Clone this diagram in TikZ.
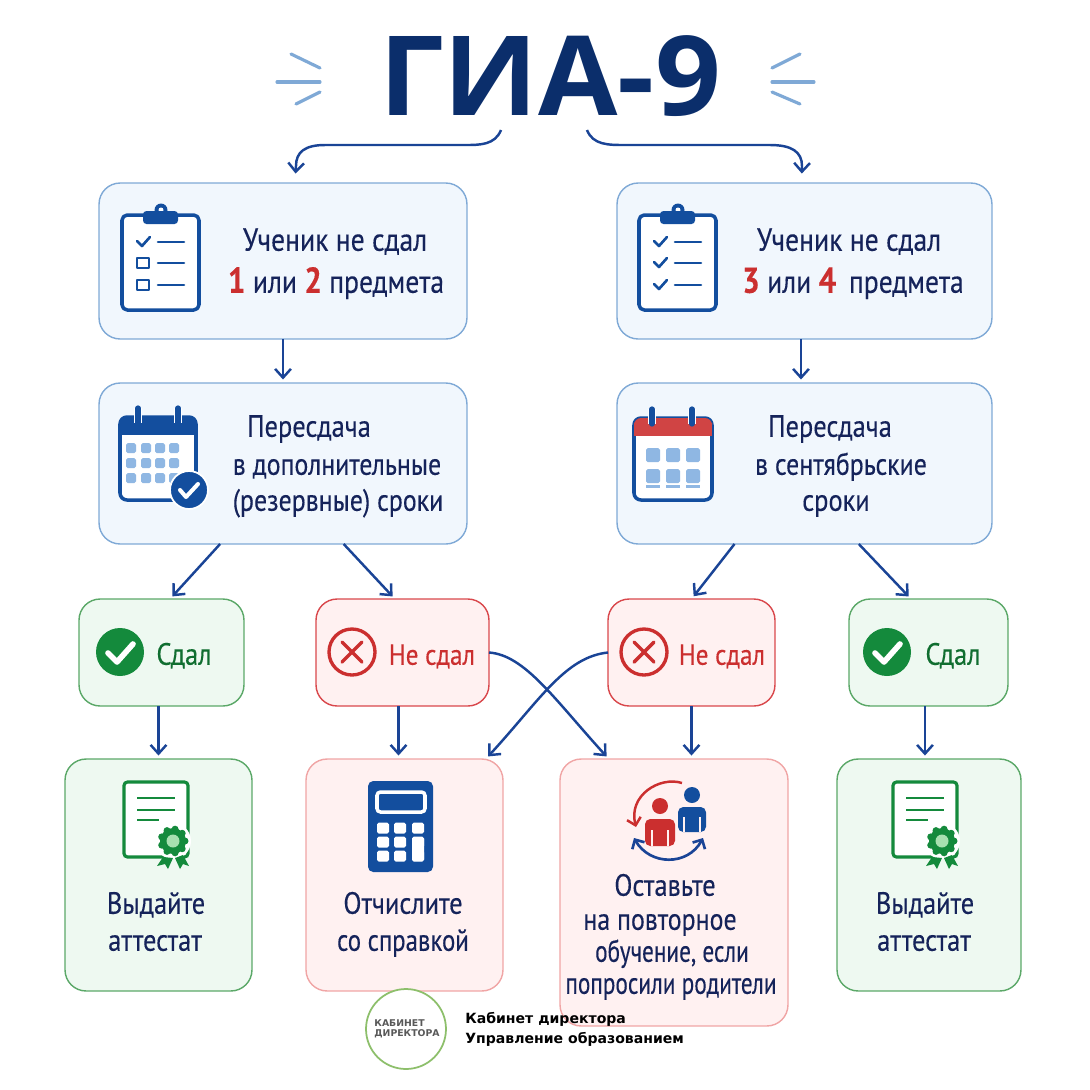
\documentclass[tikz,border=0pt]{standalone}
\usepackage{fontspec}
\usepackage{graphicx}
\setmainfont[FakeStretch=0.86,FakeBold=0.25]{PT Sans}
\newfontfamily\titlefont[FakeStretch=1.04]{Open Sans}
\newfontfamily\footfont{DejaVu Sans}
\usepackage{xcolor}
\usetikzlibrary{arrows.meta}

\definecolor{titleblue}{HTML}{0B2E6B}
\definecolor{iconblue}{HTML}{134E9E}
\definecolor{arrowblue}{HTML}{1A4496}
\definecolor{textblue}{HTML}{15235A}
\definecolor{lineblue}{HTML}{7FA9D6}
\definecolor{cellblue}{HTML}{8FB7E3}
\definecolor{fillblue}{HTML}{F1F7FD}
\definecolor{okgreen}{HTML}{148A3C}
\definecolor{linegreen}{HTML}{5BA868}
\definecolor{fillgreen}{HTML}{EEF9F1}
\definecolor{logogreen}{HTML}{8DBF6B}
\definecolor{seallight}{HTML}{A8E0B0}
\definecolor{badred}{HTML}{CB2F2F}
\definecolor{linered}{HTML}{D9484C}
\definecolor{softred}{HTML}{F0A5A5}
\definecolor{fillred}{HTML}{FFF1F1}

\tikzset{
  box/.style={draw, rounded corners=12pt, line width=0.8pt, outer sep=0pt},
  bluebox/.style={box, draw=lineblue, fill=fillblue},
  greenbox/.style={box, draw=linegreen, fill=fillgreen},
  redbox/.style={box, draw=linered, fill=fillred},
  softbox/.style={box, draw=softred, fill=fillred},
  flow/.style={draw=arrowblue, line width=1.4pt, -{Straight Barb[length=5pt,width=9pt]}, shorten >=2pt},
  lbl/.style={text=textblue, font=\fontsize{17.5}{21}\selectfont, anchor=base, inner sep=0pt, yshift=-1pt},
  biglbl/.style={lbl, font=\fontsize{18.3}{21}\selectfont},
  smalllbl/.style={lbl, font=\fontsize{16.6}{21}\selectfont},
  ray/.style={draw=lineblue, line width=1.8pt, line cap=round},
  icon/.style={draw=iconblue, line width=2pt, line join=round, line cap=round},
  iconline/.style={draw=iconblue, line width=1.5pt, line join=round, line cap=round}
}

\newcommand{\numred}[1]{\textcolor{badred}{\fontsize{20.5}{21}\selectfont\textbf{#1}}}
\newcommand{\tickicon}[2]{\draw[iconline] (#1-6,#2-1) -- (#1-1,#2+4) -- (#1+7,#2-5);}
\newcommand{\emptyicon}[2]{\draw[iconline] (#1-6,#2-5) rectangle (#1+6,#2+5);}
\newcommand{\narrow}[1]{\scalebox{0.88}[1]{#1}}

% Clipboard frame, drawn from its top left corner
\newcommand{\clipicon}{
  \draw[icon, fill=white, rounded corners=3pt] (0,0) rectangle (77,95);
  \fill[iconblue] (39,-5) circle (6.5);
  \fill[white] (39,-5) circle (2.5);
  \fill[iconblue, rounded corners=2pt] (21,-4) rectangle (56,9);
  \draw[iconline] (36,27) -- (62,27);
  \draw[iconline] (36,48) -- (62,48);
  \draw[iconline] (36,70) -- (62,70);
}
% Diploma with its rosette
\newcommand{\diplomaicon}{
  \draw[draw=okgreen, line width=1.8pt, fill=white, rounded corners=2pt] (0,0) rectangle (64,75);
  \draw[okgreen, line width=1.4pt] (13,16) -- (51,16);
  \draw[okgreen, line width=1.4pt] (13,28) -- (51,28);
  \draw[okgreen, line width=1.4pt] (13,38) -- (35,38);
  \fill[white] (49,59) circle (18);
  \fill[okgreen] (39,75) -- (33,84) -- (41,82) -- (44,87) -- (49,76) -- cycle;
  \fill[okgreen] (51,76) -- (56,87) -- (59,82) -- (65,84) -- (59,73) -- cycle;
  \fill[okgreen] (49,59) circle (13);
  \foreach \a in {0,40,...,320} \fill[okgreen] (49,59) ++(\a:12) circle (3.5);
  \fill[seallight] (49,59) circle (6.5);
}
% Circle with a tick
\newcommand{\passicon}{
  \fill[okgreen] (0,0) circle (24);
  \draw[white, line width=3.2pt, line cap=round, line join=round] (-12,1) -- (-3,10) -- (13,-8);
}
% Circle with a cross
\newcommand{\failicon}{
  \draw[badred, line width=1.9pt] (0,0) circle (23);
  \draw[badred, line width=2pt, line cap=round] (-10,-10) -- (10,10);
  \draw[badred, line width=2pt, line cap=round] (-10,10) -- (10,-10);
}

\begin{document}
\begin{tikzpicture}[x=0.02cm, y=-0.02cm]
  \useasboundingbox (0,0) rectangle (1090,1090);

  % Title
  \node[text=titleblue, font=\titlefont\fontsize{63}{70}\selectfont\bfseries, anchor=base, inner sep=0pt] (title) at (550,115) {ГИА-9};
  \draw[ray] (291,54) -- (320,68);
  \draw[ray] (277,82) -- (320,82);
  \draw[ray] (296,104) -- (320,92);
  \draw[ray] (800,54) -- (772,68);
  \draw[ray] (772,82) -- (814,82);
  \draw[ray] (800,104) -- (772,92);
  \coordinate (titleA) at (501,130);
  \coordinate (titleB) at (587,130);

  % First row
  \node[bluebox, minimum width=7.36cm, minimum height=3.12cm] (firstA) at (283,261) {};
  \node[bluebox, minimum width=7.5cm, minimum height=3.12cm] (firstB) at (804.5,261) {};
  \node[biglbl] (firstAa) at (335,249) {Ученик не сдал};
  \node[biglbl] (firstAb) at (336,291) {\numred{1} или \numred{2} предмета};
  \node[biglbl] (firstBa) at (849,249) {Ученик не сдал};
  \node[biglbl] (firstBb) at (853,291) {\numred{3} или \numred{4}\, предмета};

  % Second row
  \node[bluebox, minimum width=7.36cm, minimum height=3.22cm] (retakeA) at (283,463.5) {};
  \node[bluebox, minimum width=7.5cm, minimum height=3.22cm] (retakeB) at (804.5,463.5) {};
  \node[lbl] (retakeAa) at (309,435) {Пересдача};
  \node[lbl] (retakeAb) at (337,473) {\scalebox{0.98}[1]{в дополнительные}};
  \node[lbl] (retakeAc) at (338,509) {\scalebox{0.98}[1]{(резервные) сроки}};
  \node[lbl] (retakeBa) at (830,435) {Пересдача};
  \node[lbl] (retakeBb) at (841,473) {\scalebox{0.98}[1]{в сентябрьские}};
  \node[lbl] (retakeBc) at (836,509) {сроки};

  % Third row
  \node[greenbox, minimum width=3.3cm, minimum height=2.14cm] (passA) at (161.5,652.5) {};
  \node[redbox, minimum width=3.46cm, minimum height=2.14cm] (failA) at (402.5,652.5) {};
  \node[redbox, minimum width=3.34cm, minimum height=2.14cm] (failB) at (691.5,652.5) {};
  \node[greenbox, minimum width=3.18cm, minimum height=2.14cm] (passB) at (928.5,652.5) {};
  \node[lbl, text=okgreen!80!black] (passAt) at (184,663) {Сдал};
  \node[smalllbl, text=badred] (failAt) at (432,663) {Не сдал};
  \node[smalllbl, text=badred] (failBt) at (722,663) {Не сдал};
  \node[lbl, text=okgreen!80!black] (passBt) at (953,663) {Сдал};

  % Last row
  \node[greenbox, minimum width=3.74cm, minimum height=4.64cm] (diplomaA) at (158.5,875) {};
  \node[softbox, minimum width=3.94cm, minimum height=4.64cm] (expel) at (404.5,875) {};
  \node[softbox, minimum width=4.56cm, minimum height=5.34cm] (retain) at (674,892.5) {};
  \node[greenbox, minimum width=3.68cm, minimum height=4.64cm] (diplomaB) at (929,875) {};
  \node[lbl] (diplomaAa) at (156,912) {Выдайте};
  \node[lbl] (diplomaAb) at (155,949) {аттестат};
  \node[lbl] (expela) at (403,912) {Отчислите};
  \node[lbl] (expelb) at (403,949) {\scalebox{0.94}[1]{со справкой}};
  \node[lbl] (retainAa) at (665,894) {Оставьте};
  \node[lbl] (retainAb) at (660,928) {\scalebox{0.98}[1]{на повторное}};
  \node[lbl] (retainAc) at (672,960) {\narrow{обучение, если}};
  \node[lbl] (retainAd) at (671,992) {\narrow{попросили родители}};
  \node[lbl] (diplomaBa) at (925,912) {Выдайте};
  \node[lbl] (diplomaBb) at (924,949) {аттестат};

  % Connectors
  \draw[flow] (titleA) .. controls (495,145) and (480,145) .. (465,145) -- (325,145) .. controls (305,145) and (296,152) .. (296,166) -- ([yshift=3.4pt]firstA.81);
  \draw[flow] (titleB) .. controls (593,145) and (608,145) .. (625,145) -- (770,145) .. controls (792,145) and (802,152) .. (802,166) -- ([yshift=3.4pt]firstB.92);
  \draw[flow] (firstA.south) -- (retakeA.north);
  \draw[flow] ([xshift=-2pt]firstB.south) -- ([xshift=-2pt]retakeB.north);
  \draw[flow] (retakeA.232) -- (passA.81);
  \draw[flow] (retakeA.307) -- (failA.98);
  \draw[flow] (retakeB.229) -- (failB.north);
  \draw[flow] (retakeB.304) -- (passB.108);
  \draw[flow] (diplomaA.north |- passA.south) -- (diplomaA.north);
  \draw[flow] ([xshift=-3.4pt]expel.north |- failA.south) -- ([xshift=-3.4pt]expel.north);
  \draw[flow] (failB.south) -- (failB.south |- retain.north);
  \draw[flow] ([xshift=-2pt]passB.south) -- ([xshift=-2pt]passB.south |- diplomaB.north);
  \draw[flow] (failA.east) .. controls (525,655) and (555,700) .. (retain.116);
  \draw[flow] (failB.west) .. controls (565,657) and (540,700) .. (expel.55);

  % Clipboards
  \begin{scope}[shift={(122,215)}]
    \clipicon
    \tickicon{21}{27}
    \emptyicon{21}{48}
    \emptyicon{21}{70}
  \end{scope}
  \begin{scope}[shift={(639,215)}]
    \clipicon
    \tickicon{21}{27}
    \tickicon{21}{48}
    \tickicon{21}{70}
  \end{scope}

  % Calendars
  \draw[icon, fill=white, rounded corners=4pt] (120,417) rectangle (196,500);
  \fill[iconblue, rounded corners=4pt] (120,417) rectangle (196,430);
  \fill[iconblue] (120,425) rectangle (196,435);
  \foreach \x in {138,178} \draw[iconblue, line width=3pt, line cap=round, preaction={draw=white, line width=5pt}] (\x,408) -- (\x,423);
  \foreach \x in {131,146,160,174} \foreach \y in {448,463,478} \fill[cellblue, rounded corners=1pt] (\x-5,\y-5) rectangle (\x+5,\y+5);
  \fill[iconblue, draw=white, line width=1pt] (189,490) circle (19);
  \draw[white, line width=2.3pt, line cap=round, line join=round] (180,490) -- (186,497) -- (198,484);

  \draw[icon, fill=white, rounded corners=4pt] (634,418) rectangle (712,500);
  \fill[badred!90!white, rounded corners=4pt] (634,418) rectangle (712,430);
  \fill[badred!90!white] (634,425) rectangle (712,436);
  \foreach \x in {652,692} \draw[iconblue, line width=3pt, line cap=round, preaction={draw=white, line width=5pt}] (\x,409) -- (\x,424);
  \foreach \x in {653,673,693} {
    \fill[cellblue, rounded corners=1pt] (\x-7,448) rectangle (\x+7,462);
    \fill[cellblue, rounded corners=1pt] (\x-7,469) rectangle (\x+7,483);
    \fill[cellblue] (\x-7,485) rectangle (\x+7,488);
  }

  % Status marks
  \begin{scope}[shift={(120,652)}] \passicon \end{scope}
  \begin{scope}[shift={(887,652)}] \passicon \end{scope}
  \begin{scope}[shift={(352,652)}] \failicon \end{scope}
  \begin{scope}[shift={(644,652)}] \failicon \end{scope}

  % Diplomas
  \begin{scope}[shift={(124,782)}] \diplomaicon \end{scope}
  \begin{scope}[shift={(893,782)}] \diplomaicon \end{scope}

  % Calculator
  \fill[iconblue, rounded corners=3pt] (368,781) rectangle (433,872);
  \draw[white, line width=2pt, fill=iconblue, rounded corners=2pt] (377,792) rectangle (425,812);
  \foreach \x in {383,400,418} \foreach \y in {828,842,856} \fill[white, rounded corners=1pt] (\x-6,\y-5.5) rectangle (\x+6,\y+5.5);
  \fill[white, rounded corners=1pt] (412,837) rectangle (424,861);

  % People
  \fill[iconblue] (692,795) circle (8);
  \fill[iconblue, rounded corners=3pt] (678,807) rectangle (706,832);
  \draw[fillred, line width=0.7pt] (684,817) -- (684,832);
  \draw[fillred, line width=0.7pt] (700,817) -- (700,832);
  \fill[fillred] (676,816) rectangle (677.5,840);
  \fill[badred] (660,806) circle (8);
  \fill[badred, rounded corners=3pt] (645,819) rectangle (675,846);
  \draw[fillred, line width=0.7pt] (652,830) -- (652,846);
  \draw[fillred, line width=0.7pt] (668,830) -- (668,846);
  \draw[badred, line width=1.4pt, -{Straight Barb[length=4pt,width=8pt]}] (682,783) .. controls (660,776) and (628,795) .. (636,827);
  \draw[arrowblue, line width=1.5pt, {Straight Barb[length=4pt,width=8pt]}-{Straight Barb[length=4pt,width=8pt]}] (634,838) .. controls (650,866) and (688,866) .. (703,838);

  % Footer
  \node[circle, draw=logogreen, fill=white, line width=1pt, minimum size=1.6cm, inner sep=0pt] (logo) at (406,1029) {};
  \node[text=black!65, font=\footfont\fontsize{5.3}{6}\selectfont\bfseries, align=left, inner sep=0pt] (logotext) at (407,1029) {КАБИНЕТ\\ДИРЕКТОРА};
  \node[anchor=west, font=\footfont\fontsize{8}{11.3}\selectfont\bfseries, align=left, inner sep=0pt] (foot) at (465,1029) {Кабинет директора\\Управление образованием};
\end{tikzpicture}
\end{document}
